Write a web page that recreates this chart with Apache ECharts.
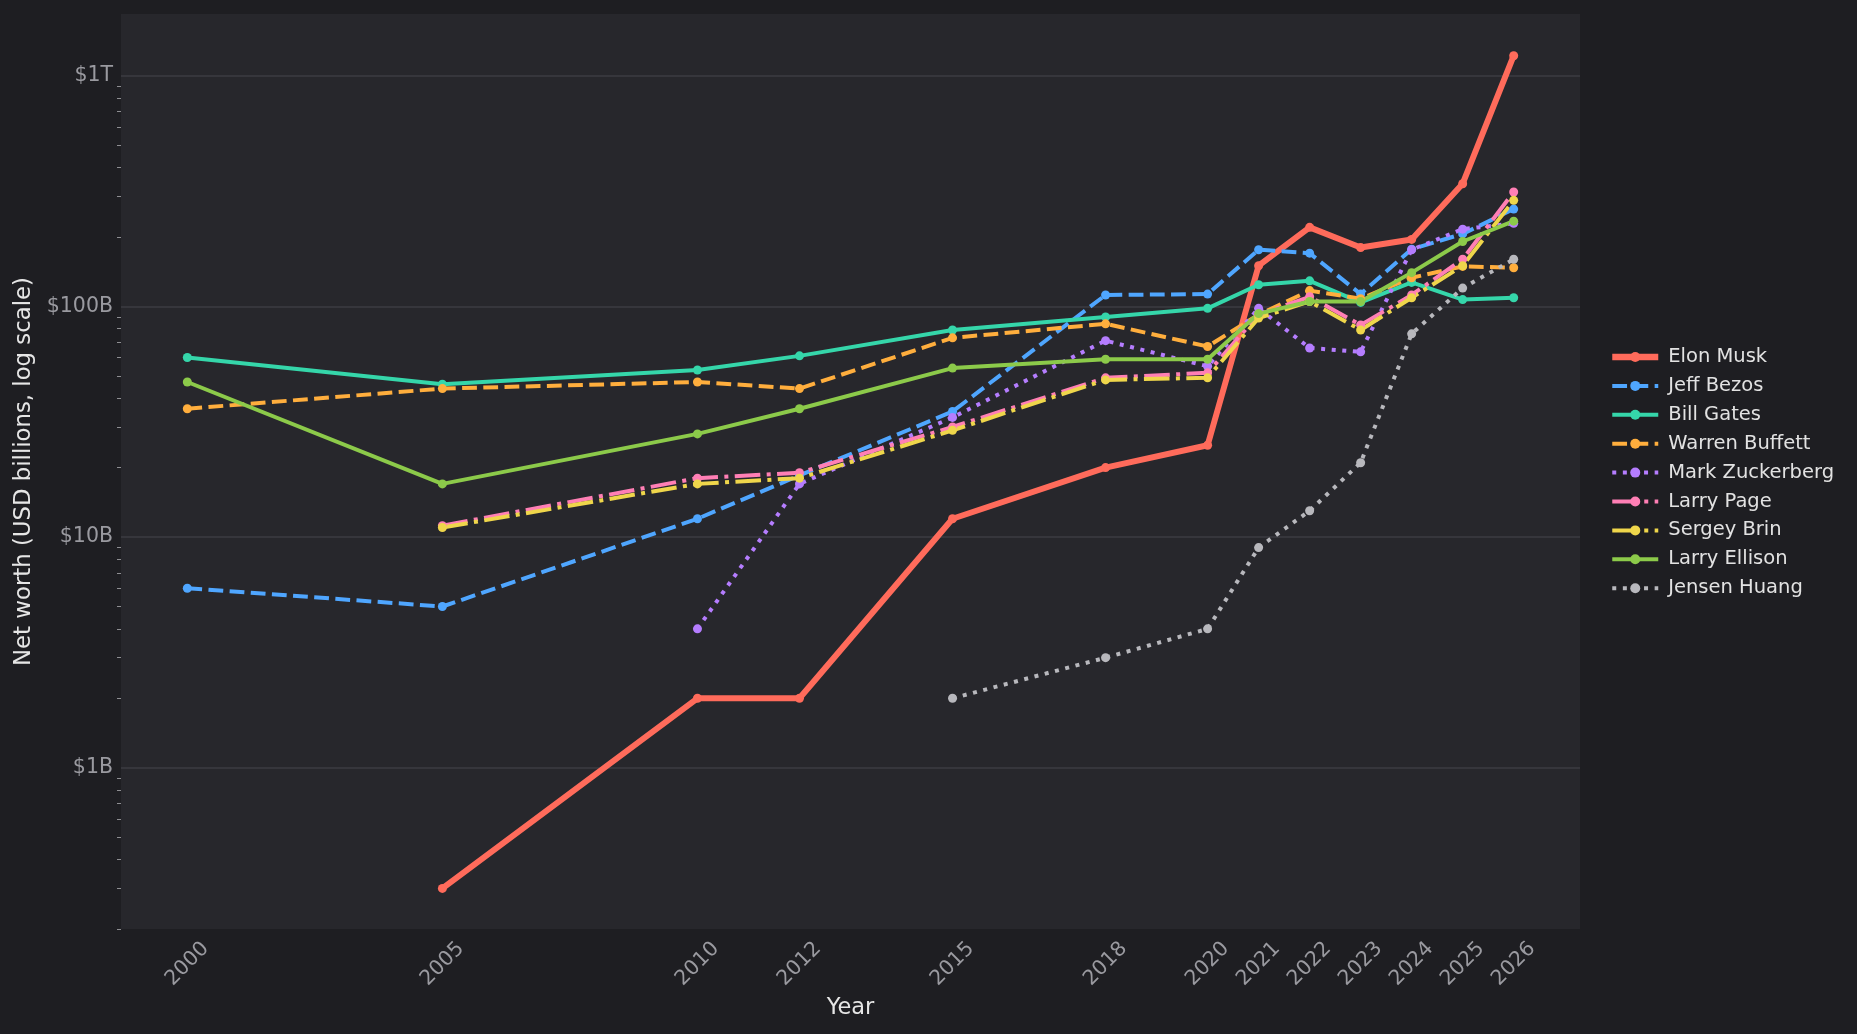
<!DOCTYPE html>
<html>
<head>
<meta charset="utf-8">
<script src="https://cdn.jsdelivr.net/npm/echarts@6/dist/echarts.min.js"></script>
<style>
  html, body { margin: 0; padding: 0; background: #1e1e22; }
  #chart { width: 1857px; height: 1034px; }
</style>
</head>
<body>
<div id="chart"></div>
<script>
// ---- data (net worth in USD billions) ----
const years = [2000, 2005, 2010, 2012, 2015, 2018, 2020, 2021, 2022, 2023, 2024, 2025, 2026];
const muskValues       = [null, 0.3, 2, 2, 12, 20, 25, 150, 220, 180, 195, 340, 1220];
const bezosValues      = [6, 5, 12, 18.5, 35, 112, 113, 176, 170, 113, 177, 206, 264];
const gatesValues      = [60, 46, 53, 61, 79, 90, 98, 124, 129, 104, 127, 107, 109];
const buffettValues    = [36, 44, 47, 44, 73, 84, 67, 92, 117, 108, 133, 149, 147];
const zuckerbergValues = [null, null, 4, 17, 33, 71, 55, 98, 66, 63.5, 176, 216, 229];
const pageValues       = [null, 11.2, 18, 19, 30, 49, 51.5, 92, 110, 83, 112, 160, 313];
const brinValues       = [null, 11, 17, 18, 29, 48, 49, 89, 105, 79, 109, 150, 288];
const ellisonValues    = [47, 17, 28, 36, 54, 59, 59, 93, 105, 105, 140, 191, 234];
const huangValues      = [null, null, null, null, 2, 3, 4, 9, 13, 21, 76, 120, 160];

const yMajorTicks = [1, 10, 100, 1000];
const yMinorTicks = [0.2, 0.3, 0.4, 0.5, 0.6, 0.7, 0.8, 0.9,
                     2, 3, 4, 5, 6, 7, 8, 9,
                     20, 30, 40, 50, 60, 70, 80, 90,
                     200, 300, 400, 500, 600, 700, 800, 900];

const people = [
  { name: 'Elon Musk',       values: muskValues,       color: '#ff6b5b', width: 6, dash: 'solid' },
  { name: 'Jeff Bezos',      values: bezosValues,      color: '#4fa6ff', width: 4, dash: [14.8, 6.4] },
  { name: 'Bill Gates',      values: gatesValues,      color: '#35d6aa', width: 4, dash: 'solid' },
  { name: 'Warren Buffett',  values: buffettValues,    color: '#ffae3d', width: 4, dash: [14.8, 6.4] },
  { name: 'Mark Zuckerberg', values: zuckerbergValues, color: '#b57dff', width: 4, dash: [4, 6.6] },
  { name: 'Larry Page',      values: pageValues,       color: '#ff7fb5', width: 4, dash: [25.6, 6.4, 4, 6.4] },
  { name: 'Sergey Brin',     values: brinValues,       color: '#efd64b', width: 4, dash: [25.6, 6.4, 4, 6.4] },
  { name: 'Larry Ellison',   values: ellisonValues,    color: '#8cca4a', width: 4, dash: 'solid' },
  { name: 'Jensen Huang',    values: huangValues,      color: '#b8b8bd', width: 4, dash: [4, 6.6] }
];

const FONT = 'DejaVu Sans';
const chart = echarts.init(document.getElementById('chart'), null, { renderer: 'canvas' });

const series = people.map(p => ({
  name: p.name,
  type: 'line',
  yAxisIndex: 0,
  data: years.map((y, i) => [y, p.values[i]]).filter(d => d[1] != null),
  symbol: 'circle',
  symbolSize: 9,
  showSymbol: true,
  lineStyle: { color: p.color, width: p.width, type: p.dash, cap: 'butt' },
  itemStyle: { color: p.color, borderWidth: 0 },
  emphasis: { disabled: true },
  silent: true
}));

const legendData = people.map(p => ({
  name: p.name,
  itemStyle: { color: p.color, borderWidth: 0 },
  lineStyle: { color: p.color, width: p.width === 6 ? 6.5 : 4, type: p.dash, cap: 'butt' }
}));

chart.setOption({
  backgroundColor: '#1e1e22',
  animation: false,
  textStyle: { fontFamily: FONT },
  grid: {
    left: 121, right: 277, top: 14, bottom: 105,
    show: true, backgroundColor: '#27272c', borderWidth: 0,
    containLabel: false, outerBoundsMode: 'none'
  },
  legend: {
    orient: 'vertical',
    left: 1604,
    top: 342,
    itemWidth: 46,
    itemHeight: 12.5,
    itemGap: 8.9,
    selectedMode: false,
    data: legendData,
    textStyle: { color: '#e2e2e2', fontSize: 19.5, fontFamily: FONT, padding: [0, 0, 0, 5] }
  },
  xAxis: {
    type: 'value',
    min: 1998.7,
    max: 2027.3,
    name: 'Year',
    nameLocation: 'middle',
    nameGap: 66,
    nameTextStyle: { color: '#e6e6e6', fontSize: 22.5, fontFamily: FONT },
    axisLine: { show: false },
    axisTick: { show: false },
    splitLine: { show: false },
    axisLabel: {
      customValues: years,
      formatter: v => String(v),
      rotate: 45,
      align: 'center',
      verticalAlign: 'middle',
      margin: 35,
      color: '#9a9aa0',
      fontSize: 20.5,
      fontFamily: FONT
    }
  },
  yAxis: [
    {
      type: 'log',
      logBase: 10,
      min: 0.2,
      max: 1850,
      name: 'Net worth (USD billions, log scale)',
      nameLocation: 'middle',
      nameRotate: 90,
      nameGap: 84,
      nameTextStyle: { color: '#e6e6e6', fontSize: 22.8, fontFamily: FONT },
      axisLine: { show: false },
      axisTick: { show: false },
      splitLine: { show: true, showMinLine: false, showMaxLine: false, lineStyle: { color: '#3c3c42', width: 1.5 } },
      axisLabel: {
        customValues: yMajorTicks,
        formatter: v => v >= 1000 ? '$' + Math.round(v / 1000) + 'T' : '$' + Math.round(v) + 'B',
        margin: 8,
        color: '#9a9aa0',
        fontSize: 20.5,
        fontFamily: FONT
      }
    },
    {
      type: 'log',
      logBase: 10,
      min: 0.2,
      max: 1850,
      position: 'left',
      offset: 0,
      axisLine: { show: false },
      axisLabel: { show: false },
      splitLine: { show: false },
      axisTick: { show: true, customValues: yMinorTicks, length: 4, lineStyle: { color: '#8e8e92', width: 1 } }
    }
  ],
  series: series
});
</script>
</body>
</html>
